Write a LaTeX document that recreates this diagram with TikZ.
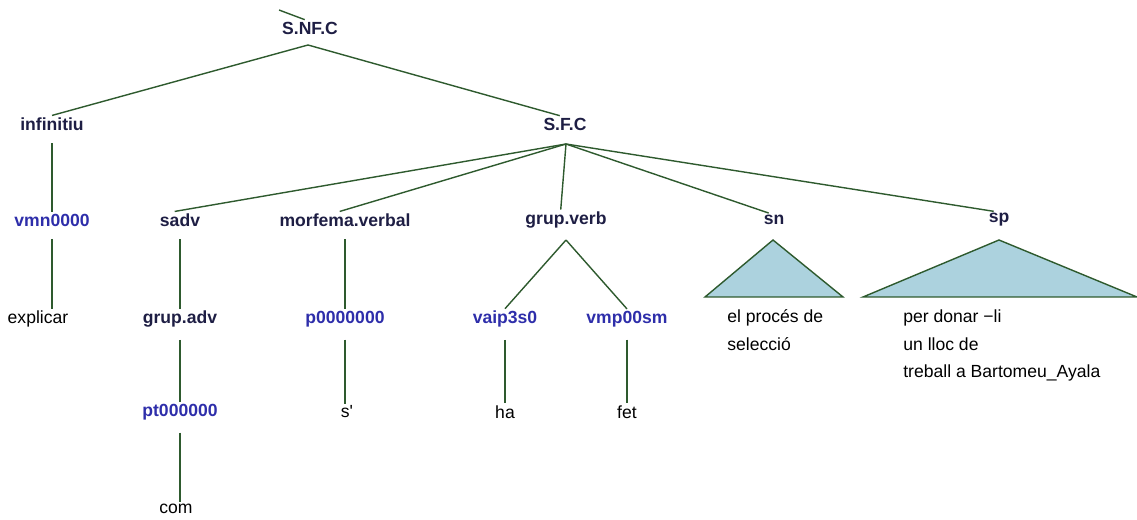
\documentclass[tikz,border=0pt]{standalone}
\usepackage{fontspec}
\setmainfont{Liberation Sans}
\usetikzlibrary{positioning}
\definecolor{catcol}{RGB}{30,30,68}
\definecolor{tagcol}{RGB}{46,46,170}
\definecolor{edgecol}{RGB}{46,90,46}
\definecolor{trifill}{RGB}{172,210,222}
\tikzset{
  cat/.style={font=\bfseries, text=catcol, inner sep=1pt},
  tag/.style={font=\bfseries, text=tagcol, inner sep=1pt},
  word/.style={inner sep=1pt},
  leaf/.style={align=left, anchor=north west, inner sep=0pt, font=\fontsize{10}{15.9}\selectfont},
  br/.style={draw=edgecol, line width=0.8pt},
  tri/.style={draw=edgecol, fill=trifill, line width=0.8pt},
}

\begin{document}
\begin{tikzpicture}[x=0.02cm, y=-0.02cm]
  \useasboundingbox (0,0) rectangle (1137,520);
  % top levels
  \node[cat] (snfc) at (310,28) {S.NF.C};
  \node[cat] (inf) at (52,124) {infinitiu};
  \node[cat] (sfc) at (565,124) {S.F.C};
  % third row
  \node[tag] (vmn) at (52,220) {vmn0000};
  \node[cat] (sadv) at (180,220) {sadv};
  \node[cat] (morf) at (345,220) {morfema.verbal};
  \node[cat] (gv) at (566,220) {grup.verb};
  \node[cat] (sn) at (774,220) {sn};
  \node[cat] (sp) at (999,220) {sp};
  % fourth row
  \node[word] (expl) at (38,319) {explicar};
  \node[cat] (gadv) at (180,319) {grup.adv};
  \node[tag] (p0) at (345,319) {p0000000};
  \node[tag] (vaip) at (505,319) {vaip3s0};
  \node[tag] (vmp) at (627,319) {vmp00sm};
  \node[leaf] (snw) at (727,309) {el procés de\\selecció};
  \node[leaf] (spw) at (903,309) {per donar −li\\un lloc de\\treball a Bartomeu\_Ayala};
  % fifth row
  \node[tag] (pt) at (180,412) {pt000000};
  \node[word] (sq) at (347,412) {s\textquotesingle};
  \node[word] (ha) at (505,412) {ha};
  \node[word] (fet) at (627,412) {fet};
  \node[word] (com) at (176,509) {com};
  % stub above the root
  \coordinate (stub) at (279,10);
  \draw[br] (stub) -- ([xshift=-3pt]snfc.north);
  % branches
  \coordinate (snfcb) at (308,45);
  \coordinate (sfcb) at (566,144);
  \draw[br] (snfcb) -- (inf.north);
  \draw[br] (snfcb) -- ([xshift=-3pt]sfc.north);
  \draw[br] ([yshift=-6pt]inf.south) -- (vmn.north);
  \foreach \c in {sadv,morf,gv,sn,sp}
    \draw[br] (sfcb) -- ([xshift=-3pt]\c.north);
  \draw[br] ([yshift=-6pt]vmn.south) -- (expl.north -| vmn);
  \draw[br] ([yshift=-6pt]sadv.south) -- (gadv.north);
  \draw[br] ([yshift=-6pt]gadv.south) -- (pt.north);
  \draw[br] ([yshift=-6pt]pt.south) -- (pt.south |- com.north);
  \draw[br] ([yshift=-6pt]morf.south) -- (p0.north);
  \draw[br] ([yshift=-6pt]p0.south) -- (p0.south |- sq.north);
  \coordinate (gvb) at (566,240);
  \draw[br] (gvb) -- (vaip.north);
  \draw[br] (gvb) -- (vmp.north);
  \draw[br] ([yshift=-6pt]vaip.south) -- (vaip.south |- ha.north);
  \draw[br] ([yshift=-6pt]vmp.south) -- (vmp.south |- fet.north);
  % collapsed phrases
  \draw[tri] (773,240) -- (843,297) -- (705,297) -- cycle;
  \draw[tri] (999,240) -- (1137,297) -- (863,297) -- cycle;
\end{tikzpicture}
\end{document}
